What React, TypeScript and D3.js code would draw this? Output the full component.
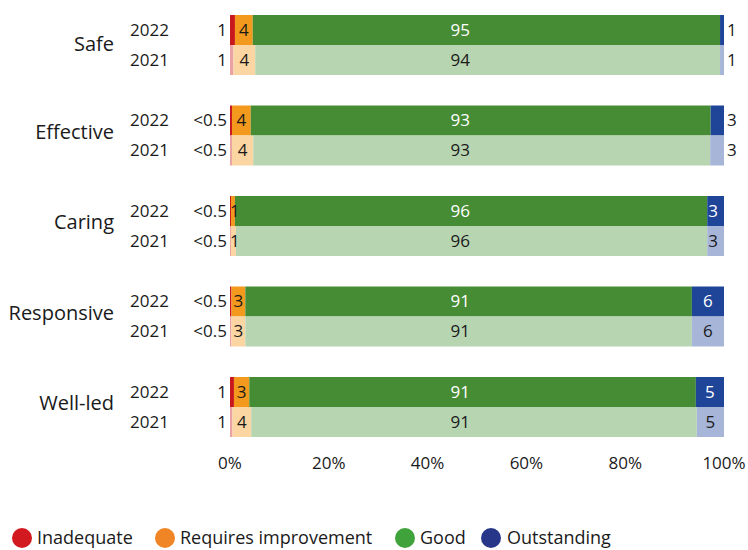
import React from "react";
import * as d3 from "d3";

const categories = ["Safe", "Effective", "Caring", "Responsive", "Well-led"];
const years = ["2022", "2021"];
const ratingKeys = ["inadequate", "requires", "good", "outstanding"];
const legendLabels = ["Inadequate", "Requires improvement", "Good", "Outstanding"];

const inadequate2022 = [1.0, 0.4, 0.2, 0.3, 0.8];
const requires2022 = [3.6, 3.8, 0.8, 2.8, 3.1];
const good2022 = [94.6, 93.1, 95.6, 90.4, 90.4];
const outstanding2022 = [0.8, 2.7, 3.4, 6.5, 5.7];

const inadequate2021 = [0.7, 0.4, 0.2, 0.3, 0.5];
const requires2021 = [4.4, 4.3, 1.0, 2.8, 3.8];
const good2021 = [94.1, 92.5, 95.4, 90.4, 90.2];
const outstanding2021 = [0.8, 2.8, 3.4, 6.5, 5.5];

const inadequateLabels2022 = ["1", "<0.5", "<0.5", "<0.5", "1"];
const requiresLabels2022 = ["4", "4", "1", "3", "3"];
const goodLabels2022 = ["95", "93", "96", "91", "91"];
const outstandingLabels2022 = ["1", "3", "3", "6", "5"];

const inadequateLabels2021 = ["1", "<0.5", "<0.5", "<0.5", "1"];
const requiresLabels2021 = ["4", "4", "1", "3", "4"];
const goodLabels2021 = ["94", "93", "96", "91", "91"];
const outstandingLabels2021 = ["1", "3", "3", "6", "5"];

const xTicks = [0, 20, 40, 60, 80, 100];

const colors2022 = ["#c9171e", "#f3991d", "#468c35", "#1f4599"];
const colors2021 = ["#e9a3a3", "#fbd6a2", "#b8d5b1", "#a6b5d8"];
const legendColors = ["#d2191f", "#f08526", "#3fa23a", "#28368a"];

const FONT = "'Open Sans', 'Noto Sans', sans-serif";
const DARK = "#1a1a1a";

type Row = { cat: string; year: string; ci: number; yi: number; values: number[]; labels: string[] };

const rows: Row[] = [];
categories.forEach((c, i) => {
  rows.push({
    cat: c, year: years[0], ci: i, yi: 0,
    values: [inadequate2022[i], requires2022[i], good2022[i], outstanding2022[i]],
    labels: [inadequateLabels2022[i], requiresLabels2022[i], goodLabels2022[i], outstandingLabels2022[i]],
  });
  rows.push({
    cat: c, year: years[1], ci: i, yi: 1,
    values: [inadequate2021[i], requires2021[i], good2021[i], outstanding2021[i]],
    labels: [inadequateLabels2021[i], requiresLabels2021[i], goodLabels2021[i], outstandingLabels2021[i]],
  });
});

export default function App() {
  const W = 748, H = 550;
  const x = d3.scaleLinear().domain([0, 100]).range([230, 724]);
  const groupY = d3.scaleBand<string>().domain(categories).range([15, 15 + 90.5 * 5]).paddingInner(0).paddingOuter(0);
  const barH = 30;

  const stackData = rows.map((r) => {
    const o: any = {};
    ratingKeys.forEach((k, i) => (o[k] = r.values[i]));
    return o;
  });
  const stacked = d3.stack<any>().keys(ratingKeys)(stackData);

  const rowY = (r: Row) => (groupY(r.cat) as number) + r.yi * barH;

  return (
    <svg width={W} height={H} style={{ position: "absolute", left: 0, top: 0, fontFamily: FONT }}>
      <rect width={W} height={H} fill="#fff" />
      {categories.map((c, i) => (
        <text key={c} x={114} y={(groupY(c) as number) + barH - (i === 0 ? 1 : 4)} dy="0.35em" textAnchor="end" fontSize={20} fill={DARK}>
          {c}
        </text>
      ))}
      {rows.map((r, ri) => {
        const y0 = rowY(r);
        const cols = r.yi === 0 ? colors2022 : colors2021;
        const cy = y0 + barH / 2;
        return (
          <g key={ri}>
            <text x={130} y={cy} dy="0.35em" fontSize={17} fill={DARK}>{r.year}</text>
            {stacked.map((s, si) => {
              const [a, b] = s[ri];
              return <rect key={si} x={x(a)} y={y0} width={Math.max(0, x(b) - x(a))} height={barH} fill={cols[si]} />;
            })}
            {stacked.map((s, si) => {
              const [a, b] = s[ri];
              const xa = x(a), xb = x(b), w = xb - xa;
              const lab = r.labels[si];
              let tx = (xa + xb) / 2;
              let anchor: any = "middle";
              let fill = DARK;
              if (si === 0) { tx = 227; anchor = "end"; }
              else if (si === 1) { tx = Math.max((xa + xb) / 2, xa + 4); }
              else if (si === 2) { tx = x(46.6); fill = r.yi === 0 ? "#fff" : DARK; }
              else if (si === 3) {
                if (w < 15) { tx = xb + 3; anchor = "start"; }
                else if (w < 20) { tx = xa + 1; anchor = "start"; fill = r.yi === 0 ? "#fff" : DARK; }
                else { fill = r.yi === 0 ? "#fff" : DARK; }
              }
              return (
                <text key={"l" + si} x={tx} y={cy} dy="0.35em" textAnchor={anchor} fontSize={17} fill={fill}>{lab}</text>
              );
            })}
          </g>
        );
      })}
      {xTicks.map((t) => (
        <text key={t} x={x(t)} y={463} dy="0.35em" textAnchor="middle" fontSize={17} fill={DARK}>{t + "%"}</text>
      ))}
      {(() => {
        const xs = [22, 165, 405, 491];
        return legendLabels.map((l, i) => (
          <g key={l}>
            <circle cx={xs[i]} cy={538} r={10} fill={legendColors[i]} />
            <text x={xs[i] + (i === 3 ? 16 : 15)} y={538} dy="0.35em" fontSize={18} fill={DARK}>{l}</text>
          </g>
        ));
      })()}
    </svg>
  );
}
